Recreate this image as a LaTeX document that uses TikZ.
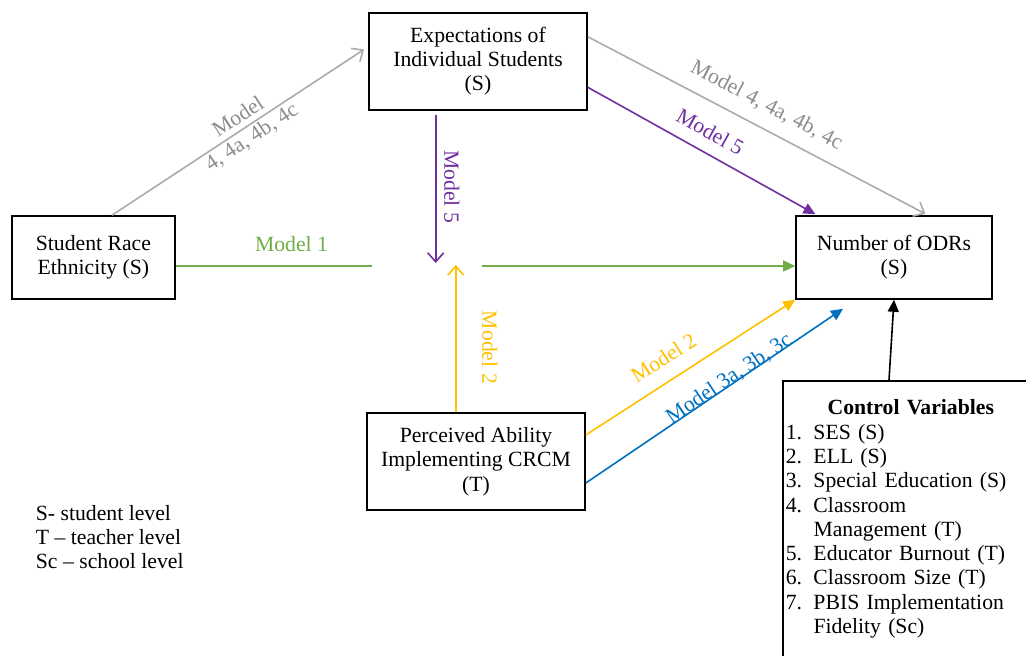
\documentclass[tikz,border=0pt]{standalone}
\usepackage{fontspec}
\setmainfont{Liberation Serif}
\usetikzlibrary{arrows.meta,positioning}
\definecolor{modelgray}{HTML}{ABABAB}
\definecolor{labelgray}{HTML}{8C8C8C}
\definecolor{modelgreen}{HTML}{70AD47}
\definecolor{modelpurple}{HTML}{7030A0}
\definecolor{modelyellow}{HTML}{FFC000}
\definecolor{modelblue}{HTML}{0070C0}
\tikzset{
  varbox/.style={draw, line width=1.6pt, align=center, inner sep=0pt},
  link/.style={line width=1.6pt},
  opentip/.style={link, -{Straight Barb[length=9pt,width=16pt]}},
  filltip/.style={link, -{Triangle[length=12pt,width=11pt]}},
  modellabel/.style={sloped, above=9pt}
}

\begin{document}
\begin{tikzpicture}[x=1pt, y=-1pt, font=\fontsize{21.7}{24.3}\selectfont]
        \clip (0,0) rectangle (1026,656);

        \node[varbox, minimum width=218pt, minimum height=97pt] (expectations) at (478,61.3) {Expectations of\\Individual Students\\(S)};
        \node[varbox, minimum width=163pt, minimum height=83pt] (race) at (93.4,257.5) {Student Race\\Ethnicity (S)};
        \node[varbox, minimum width=196pt, minimum height=83pt] (odrs) at (894,257.5) {Number of ODRs\\(S)};
        \node[varbox, minimum width=218pt, minimum height=97pt] (perceived) at (476,461.5) {Perceived Ability\\Implementing CRCM\\(T)};
        \node[varbox, anchor=north west, align=left, text width=250pt, inner xsep=3pt, inner ysep=19pt] (control) at (782,380)
          {\hfill\textbf{Control Variables}\hfill\null\\
           \makebox[27.7pt][l]{1.}SES (S)\\
           \makebox[27.7pt][l]{2.}ELL (S)\\
           \makebox[27.7pt][l]{3.}Special Education (S)\\
           \makebox[27.7pt][l]{4.}Classroom\\
           \hspace*{27.7pt}Management (T)\\
           \makebox[27.7pt][l]{5.}Educator Burnout (T)\\
           \makebox[27.7pt][l]{6.}Classroom Size (T)\\
           \makebox[27.7pt][l]{7.}PBIS Implementation\\
           \hspace*{27.7pt}Fidelity (Sc)};
        \node[align=left, anchor=west] (levels) at (32.4,537) {S- student level\\T – teacher level\\Sc – school level};

        \coordinate (gap west) at (372,266);
        \coordinate (gap east) at (481.7,266);
        \coordinate (meet top) at (435.7,263);
        \coordinate (meet bottom) at (455.7,265);

        \draw[opentip, modelgray, shorten >=5pt] ([xshift=18.6pt]race.north) -- ([yshift=14.6pt]expectations.west)
          node[sloped, pos=0.52, align=center, text=labelgray] {Model\\4, 4a, 4b, 4c};
        \draw[opentip, modelgray, shorten >=3pt] ([yshift=24.6pt]expectations.east) -- ([xshift=34pt]odrs.north)
          node[modellabel, pos=0.495, text=labelgray] {Model 4, 4a, 4b, 4c};
        \draw[filltip, modelpurple, shorten >=2pt] ([yshift=-26pt]expectations.east) -- ([xshift=22pt]odrs.north west)
          node[modellabel, pos=0.49] {Model 5};
        \draw[opentip, modelpurple, shorten <=4pt] ([xshift=-42.3pt]expectations.south) -- (meet top)
          node[midway, xshift=16pt, rotate=-90] {Model 5};
        \draw[opentip, modelyellow] ([xshift=-20.3pt]perceived.north) -- (meet bottom)
          node[pos=0.44, xshift=34pt, rotate=-90] {Model 2};
        \draw[link, modelgreen] (race.east |- gap west) -- (gap west)
          node[pos=0.59, above=10pt] {Model 1};
        \draw[filltip, modelgreen] (gap east) -- (odrs.west |- gap east);
        \draw[filltip, modelyellow] ([yshift=26.5pt]perceived.east) -- (odrs.south west)
          node[sloped, pos=0.43, above=11pt] {Model 2};
        \draw[filltip, modelblue] ([yshift=-21.5pt]perceived.east) -- ([xshift=-51pt,yshift=-9pt]odrs.south)
          node[sloped, pos=0.57, anchor=base, inner sep=0pt] {Model 3a, 3b, 3c};
        \draw[filltip] ([xshift=107pt]control.north west) -- (odrs.south);
\end{tikzpicture}
\end{document}
